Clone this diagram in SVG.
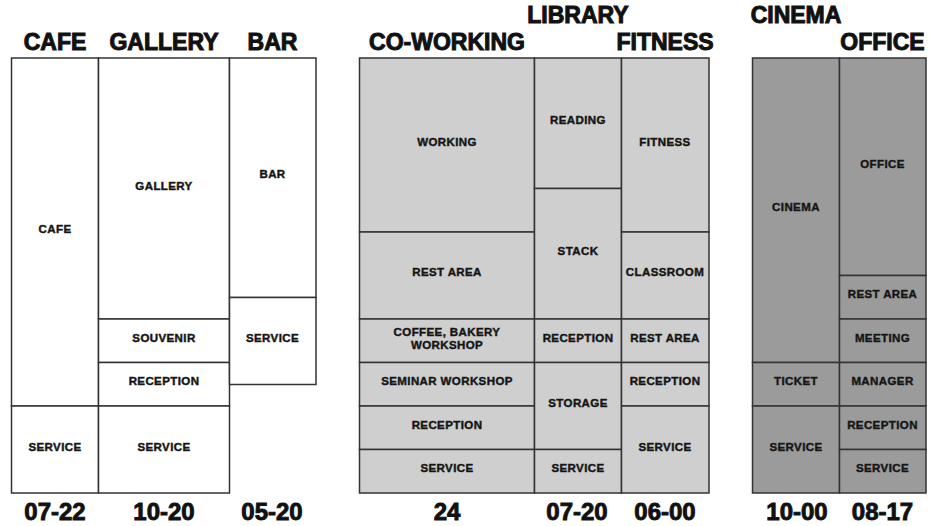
<svg xmlns="http://www.w3.org/2000/svg" width="930" height="526" viewBox="0 0 930 526">
<style>
.c{stroke:#333;stroke-width:1.5}
.w{fill:#fff}
.g1{fill:#cfcfcf}
.g2{fill:#9b9b9b}
text{font-family:"Liberation Sans",Arial,sans-serif;font-weight:bold;fill:#111;text-anchor:middle}
.h{font-size:23px;stroke:#111;stroke-width:1}
.t{font-size:24px;stroke:#111;stroke-width:0.9}
.l{font-size:11.5px;stroke:#222;stroke-width:0.45;letter-spacing:0.4px}
</style>
<rect width="930" height="526" fill="#fff"/>
<g id="headers">
<text class="h" x="55" y="50">CAFE</text>
<text class="h" x="164" y="50">GALLERY</text>
<text class="h" x="272.5" y="50">BAR</text>
<text class="h" x="447" y="50">CO-WORKING</text>
<text class="h" x="578" y="23">LIBRARY</text>
<text class="h" x="665" y="50">FITNESS</text>
<text class="h" x="796" y="23">CINEMA</text>
<text class="h" x="882.5" y="50">OFFICE</text>
</g>
<g id="hours">
<text class="t" x="55" y="520">07-22</text>
<text class="t" x="164" y="520">10-20</text>
<text class="t" x="272" y="520">05-20</text>
<text class="t" x="447" y="520">24</text>
<text class="t" x="577" y="520">07-20</text>
<text class="t" x="665" y="520">06-00</text>
<text class="t" x="797" y="520">10-00</text>
<text class="t" x="882.5" y="520">08-17</text>
</g>
<g id="cafe-cafe"><rect class="c w" x="11.5" y="58" width="87" height="348"/><text class="l" x="55" y="233">CAFE</text></g>
<g id="cafe-service"><rect class="c w" x="11.5" y="406" width="87" height="87"/><text class="l" x="55" y="450.5">SERVICE</text></g>
<g id="gallery-gallery"><rect class="c w" x="98.5" y="58" width="131" height="261"/><text class="l" x="164" y="189.5">GALLERY</text></g>
<g id="gallery-souvenir"><rect class="c w" x="98.5" y="319" width="131" height="43.5"/><text class="l" x="164" y="341.7">SOUVENIR</text></g>
<g id="gallery-reception"><rect class="c w" x="98.5" y="362.5" width="131" height="43.5"/><text class="l" x="164" y="385.2">RECEPTION</text></g>
<g id="gallery-service"><rect class="c w" x="98.5" y="406" width="131" height="87"/><text class="l" x="164" y="450.5">SERVICE</text></g>
<g id="bar-bar"><rect class="c w" x="229.5" y="58" width="86.5" height="239.5"/><text class="l" x="272.5" y="178">BAR</text></g>
<g id="bar-service"><rect class="c w" x="229.5" y="297.5" width="86.5" height="87"/><text class="l" x="272.5" y="341.7">SERVICE</text></g>

<g id="cw-working"><rect class="c g1" x="359.5" y="58" width="175" height="174"/><text class="l" x="447" y="145.8">WORKING</text></g>
<g id="cw-rest"><rect class="c g1" x="359.5" y="232" width="175" height="87"/><text class="l" x="447" y="276.3">REST AREA</text></g>
<g id="cw-coffee"><rect class="c g1" x="359.5" y="319" width="175" height="43.5"/><text class="l" x="447" y="335.5">COFFEE, BAKERY</text><text class="l" x="447" y="348.5">WORKSHOP</text></g>
<g id="cw-seminar"><rect class="c g1" x="359.5" y="362.5" width="175" height="43.5"/><text class="l" x="447" y="385.2">SEMINAR WORKSHOP</text></g>
<g id="cw-reception"><rect class="c g1" x="359.5" y="406" width="175" height="43.5"/><text class="l" x="447" y="428.7">RECEPTION</text></g>
<g id="cw-service"><rect class="c g1" x="359.5" y="449.5" width="175" height="43.5"/><text class="l" x="447" y="472.2">SERVICE</text></g>

<g id="lib-reading"><rect class="c g1" x="534.5" y="58" width="87" height="130.5"/><text class="l" x="578" y="124">READING</text></g>
<g id="lib-stack"><rect class="c g1" x="534.5" y="188.5" width="87" height="130.5"/><text class="l" x="578" y="254.5">STACK</text></g>
<g id="lib-reception"><rect class="c g1" x="534.5" y="319" width="87" height="43.5"/><text class="l" x="578" y="341.7">RECEPTION</text></g>
<g id="lib-storage"><rect class="c g1" x="534.5" y="362.5" width="87" height="87"/><text class="l" x="578" y="407.3">STORAGE</text></g>
<g id="lib-service"><rect class="c g1" x="534.5" y="449.5" width="87" height="43.5"/><text class="l" x="578" y="472.2">SERVICE</text></g>

<g id="fit-fitness"><rect class="c g1" x="621.5" y="58" width="87.5" height="174"/><text class="l" x="665" y="145.8">FITNESS</text></g>
<g id="fit-classroom"><rect class="c g1" x="621.5" y="232" width="87.5" height="87"/><text class="l" x="665" y="276.3">CLASSROOM</text></g>
<g id="fit-rest"><rect class="c g1" x="621.5" y="319" width="87.5" height="43.5"/><text class="l" x="665" y="341.7">REST AREA</text></g>
<g id="fit-reception"><rect class="c g1" x="621.5" y="362.5" width="87.5" height="43.5"/><text class="l" x="665" y="385.2">RECEPTION</text></g>
<g id="fit-service"><rect class="c g1" x="621.5" y="406" width="87.5" height="87"/><text class="l" x="665" y="450.8">SERVICE</text></g>

<g id="cin-cinema"><rect class="c g2" x="752.5" y="58" width="87" height="304.5"/><text class="l" x="796" y="211">CINEMA</text></g>
<g id="cin-ticket"><rect class="c g2" x="752.5" y="362.5" width="87" height="43.5"/><text class="l" x="796" y="385.2">TICKET</text></g>
<g id="cin-service"><rect class="c g2" x="752.5" y="406" width="87" height="87"/><text class="l" x="796" y="450.8">SERVICE</text></g>

<g id="off-office"><rect class="c g2" x="839.5" y="58" width="86.5" height="217.5"/><text class="l" x="882.5" y="167.5">OFFICE</text></g>
<g id="off-rest"><rect class="c g2" x="839.5" y="275.5" width="86.5" height="43.5"/><text class="l" x="882.5" y="298.2">REST AREA</text></g>
<g id="off-meeting"><rect class="c g2" x="839.5" y="319" width="86.5" height="43.5"/><text class="l" x="882.5" y="341.7">MEETING</text></g>
<g id="off-manager"><rect class="c g2" x="839.5" y="362.5" width="86.5" height="43.5"/><text class="l" x="882.5" y="385.2">MANAGER</text></g>
<g id="off-reception"><rect class="c g2" x="839.5" y="406" width="86.5" height="43.5"/><text class="l" x="882.5" y="428.7">RECEPTION</text></g>
<g id="off-service"><rect class="c g2" x="839.5" y="449.5" width="86.5" height="43.5"/><text class="l" x="882.5" y="472.2">SERVICE</text></g>
</svg>
